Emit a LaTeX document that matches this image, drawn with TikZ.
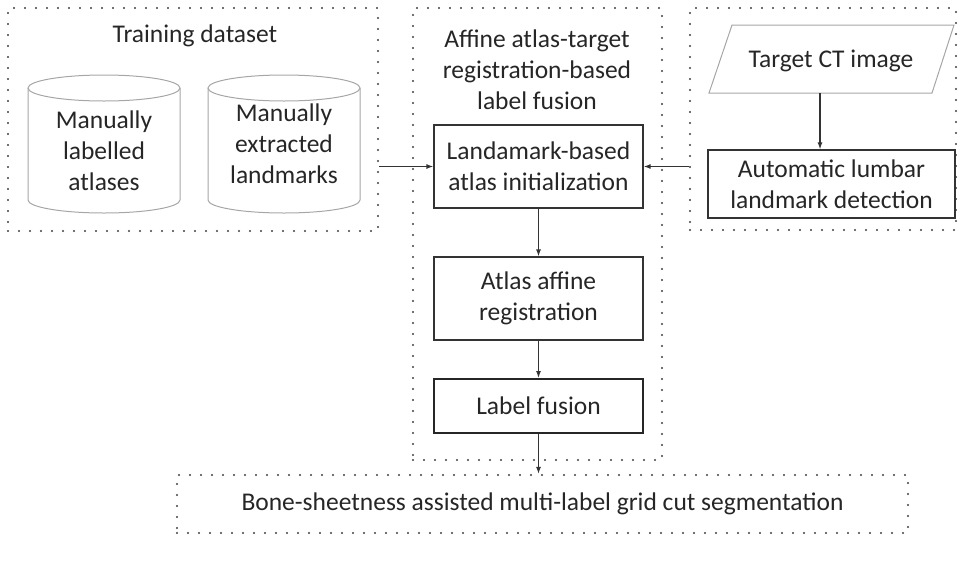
\documentclass[tikz,border=0pt]{standalone}
\usepackage{fontspec}
\setmainfont{Carlito}
\usetikzlibrary{arrows.meta}
\begin{document}
\begin{tikzpicture}[x=1pt,y=-1pt,
  every node/.style={font=\fontsize{25.5}{31}\selectfont, text=black!85, align=center, inner sep=0pt},
  dotbox/.style={draw=black!75, line width=2.2pt, dash pattern=on 0pt off 11pt, line cap=round},
  procbox/.style={draw=black!80, line width=1.2pt},
  thickbox/.style={draw=black!85, line width=2pt},
  lightshape/.style={draw=black!35, line width=1pt},
  arr/.style={draw=black!80, line width=1.2pt, -{Latex[length=7pt,width=5pt]}}
]
\useasboundingbox (0,0) rectangle (961,563);
% dotted containers
\node[dotbox, minimum width=370pt, minimum height=223pt] (train) at (193,119.5) {};
\node[dotbox, minimum width=249pt, minimum height=452pt] (mid) at (537.5,234) {};
\node[dotbox, minimum width=266pt, minimum height=222pt] (right) at (823,119) {};
\node[dotbox, minimum width=731pt, minimum height=58pt] (seg) at (542.5,504)
  {Bone-sheetness assisted multi-label grid cut segmentation};
% titles
\node (traintitle) at (195,36) {Training dataset};
\node (midtitle) at (537,70) {Affine atlas-target\\registration-based\\label fusion};
% cylinders
\draw[lightshape] (104,88) ellipse [x radius=76, y radius=13];
\draw[lightshape] (28,88) -- (28,200) arc[start angle=180, end angle=0, x radius=76, y radius=13] -- (180,88);
\draw[lightshape] (284,88) ellipse [x radius=76, y radius=13];
\draw[lightshape] (208,88) -- (208,200) arc[start angle=180, end angle=0, x radius=76, y radius=13] -- (360,88);
\node (cyla) at (104,151) {Manually\\labelled\\atlases};
\node (cylb) at (284,144) {Manually\\extracted\\landmarks};
% target CT parallelogram
\draw[lightshape] (732,25) -- (954,25) -- (932,93) -- (709,93) -- cycle;
\node (ct) at (831,61) {Target CT image};
\coordinate (ctbottom) at (820,93);
% process boxes
\node[procbox, minimum width=247pt, minimum height=68pt] (auto) at (831.5,184) {Automatic lumbar\\landmark detection};
\node[procbox, minimum width=209pt, minimum height=83pt] (land) at (538.5,166.5) {Landamark-based\\atlas initialization};
\node[procbox, minimum width=209pt, minimum height=83pt] (reg) at (538.5,298.5) {Atlas affine\\registration};
\node[thickbox, minimum width=209pt, minimum height=54pt] (fus) at (538.5,406) {Label fusion};
% connectors
\draw[arr] (train.east |- land.west) -- (land.west);
\draw[arr] (right.west |- land.east) -- (land.east);
\draw[arr] (ctbottom) -- (ctbottom |- auto.north);
\draw[arr] (land.south) -- (reg.north);
\draw[arr] (reg.south) -- (fus.north);
\draw[arr] (fus.south) -- (fus.south |- seg.north);
\end{tikzpicture}
\end{document}
